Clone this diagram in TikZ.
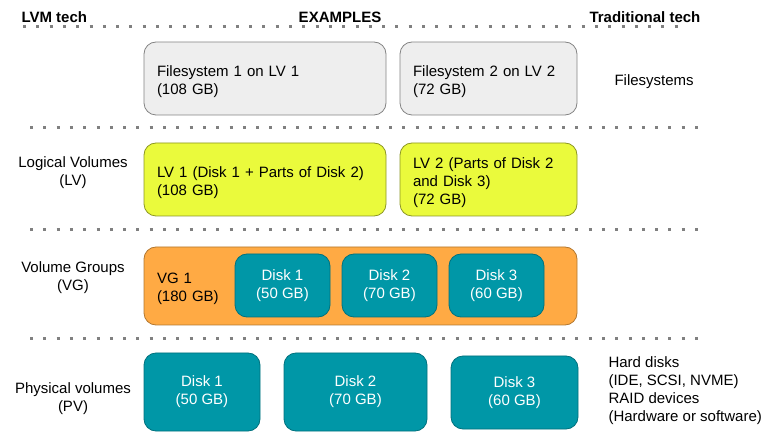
\documentclass[tikz,border=0pt]{standalone}
\usepackage{fontspec}
\setmainfont{Liberation Sans}
\definecolor{fsgray}{HTML}{EEEEEE}
\definecolor{lvyellow}{HTML}{EAFA3C}
\definecolor{vgorange}{HTML}{FFAA44}
\definecolor{diskteal}{HTML}{0097A7}
\definecolor{dotgray}{HTML}{808080}

\begin{document}
\begin{tikzpicture}[x=1pt,y=-1pt,
    txt/.style={font=\fontsize{15}{18}\selectfont},
    head/.style={font=\bfseries\fontsize{15}{18}\selectfont},
    box/.style={txt, rounded corners=12pt, line width=0.8pt, align=left,
                inner xsep=13pt, inner ysep=0pt,
                execute at begin node=\rule{0pt}{17pt}},
    fsbox/.style={box, draw=fsgray!55!black, fill=fsgray},
    lvbox/.style={box, draw=lvyellow!60!black, fill=lvyellow},
    vgbox/.style={box, draw=vgorange!70!black, fill=vgorange},
    disk/.style={txt, rounded corners=12pt, line width=0.8pt, align=center,
                 draw=diskteal!75!black, fill=diskteal, text=white,
                 inner sep=0pt, execute at begin node=\rule{0pt}{17pt}},
    sep/.style={dotgray, line width=3pt, dash pattern=on 3pt off 10.3pt}]
            \useasboundingbox (0,0) rectangle (768,435);
            % headings
            \node[head, anchor=base west] (lvmhead) at (18,22.5) {LVM tech};
            \node[head, anchor=base] (exhead) at (340,22.5) {EXAMPLES};
            \node[head, anchor=base west] (tradhead) at (586,22.5) {Traditional tech};
            % dotted separators
            \draw[sep] (23,27) -- (680,27);
            \draw[sep] (30,128) -- (699,128);
            \draw[sep] (30,230) -- (699,230);
            \draw[sep] (30,339) -- (699,339);
            % filesystems
            \node[fsbox, text width=216pt, minimum height=73pt] (fs1) at (265,78.5) {Filesystem 1 on LV 1\\(108 GB)};
            \node[fsbox, text width=151pt, minimum height=73pt] (fs2) at (488.5,78.5) {Filesystem 2 on LV 2\\(72 GB)};
            \node[txt, anchor=west] (fslabel) at (611,82) {Filesystems};
            % logical volumes
            \node[txt, align=center] (lvlabel) at (73,172.5) {Logical Volumes\\(LV)};
            \node[lvbox, text width=216pt, minimum height=73pt] (lv1) at (265,179.5) {LV 1 (Disk 1 + Parts of Disk 2)\\(108 GB)};
            \node[lvbox, text width=151pt, minimum height=73pt] (lv2) at (488.5,179.5) {LV 2 (Parts of Disk 2\\and Disk 3)\\(72 GB)};
            % volume group
            \node[txt, align=center] (vglabel) at (73,277.5) {Volume Groups\\(VG)};
            \node[vgbox, text width=407pt, minimum height=78pt] (vg1) at (360.5,286) {VG 1\\(180 GB)};
            \node[disk, minimum width=95pt, minimum height=63pt] (vgd1) at (282.5,285.5) {Disk 1\\(50 GB)};
            \node[disk, minimum width=95pt, minimum height=63pt] (vgd2) at (389.5,285.5) {Disk 2\\(70 GB)};
            \node[disk, minimum width=95pt, minimum height=63pt] (vgd3) at (496.5,285.5) {Disk 3\\(60 GB)};
            % physical volumes
            \node[txt, align=center] (pvlabel) at (73,399) {Physical volumes\\(PV)};
            \node[disk, minimum width=116pt, minimum height=78pt] (pv1) at (202,392) {Disk 1\\(50 GB)};
            \node[disk, minimum width=143pt, minimum height=78pt] (pv2) at (355.5,392) {Disk 2\\(70 GB)};
            \node[disk, minimum width=127pt, minimum height=73pt] (pv3) at (514.5,392.5) {Disk 3\\(60 GB)};
            \node[txt, align=left, anchor=west] (pvlabel2) at (605,391) {Hard disks\\(IDE, SCSI, NVME)\\RAID devices\\(Hardware or software)};
        \end{tikzpicture}
\end{document}
